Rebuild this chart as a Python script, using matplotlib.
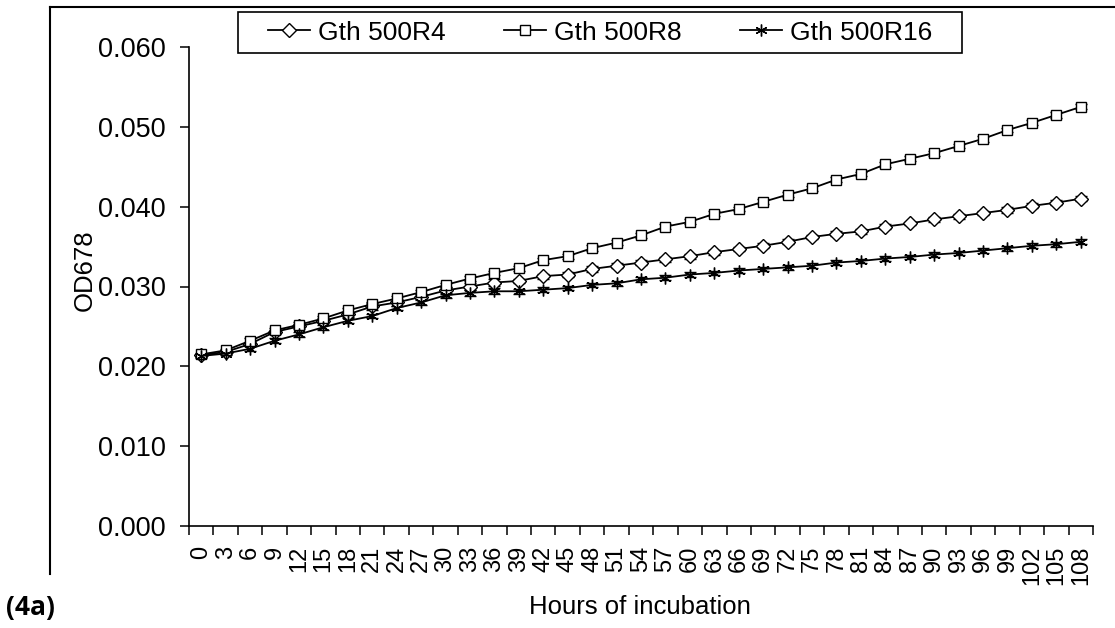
import numpy as np
import matplotlib.pyplot as plt
from matplotlib.lines import Line2D
from matplotlib.patches import Rectangle

plt.rcParams['font.family'] = ['Liberation Sans', 'DejaVu Sans']

# Hours of incubation (category labels)
hours = [0, 3, 6, 9, 12, 15, 18, 21, 24, 27, 30, 33, 36, 39, 42, 45, 48, 51, 54,
         57, 60, 63, 66, 69, 72, 75, 78, 81, 84, 87, 90, 93, 96, 99, 102, 105, 108]

# OD678 readings
gth_r4 = [0.0214, 0.0218, 0.0228, 0.0243, 0.0250, 0.0257, 0.0265, 0.0275, 0.0280,
          0.0287, 0.0295, 0.0300, 0.0305, 0.0307, 0.0313, 0.0315, 0.0322, 0.0326,
          0.0330, 0.0334, 0.0338, 0.0343, 0.0347, 0.0351, 0.0356, 0.0362, 0.0366,
          0.0369, 0.0375, 0.0379, 0.0384, 0.0388, 0.0392, 0.0396, 0.0401, 0.0405,
          0.0410]
gth_r8 = [0.0215, 0.0220, 0.0232, 0.0245, 0.0252, 0.0260, 0.0270, 0.0278, 0.0285,
          0.0293, 0.0302, 0.0310, 0.0317, 0.0323, 0.0333, 0.0338, 0.0348, 0.0355,
          0.0364, 0.0375, 0.0381, 0.0391, 0.0397, 0.0406, 0.0415, 0.0423, 0.0434,
          0.0441, 0.0453, 0.0460, 0.0467, 0.0476, 0.0485, 0.0496, 0.0505, 0.0515,
          0.0525]
gth_r16 = [0.0213, 0.0216, 0.0222, 0.0232, 0.0240, 0.0249, 0.0257, 0.0263, 0.0273,
           0.0280, 0.0289, 0.0292, 0.0294, 0.0294, 0.0296, 0.0298, 0.0302, 0.0304,
           0.0309, 0.0311, 0.0315, 0.0317, 0.0320, 0.0322, 0.0324, 0.0326, 0.0330,
           0.0332, 0.0335, 0.0337, 0.0340, 0.0342, 0.0345, 0.0348, 0.0351, 0.0353,
           0.0356]

# standard errors (small)
err_r4 = [0.0002, 0.0002, 0.0003, 0.0003, 0.0003, 0.0003, 0.0003, 0.0004, 0.0004,
          0.0003, 0.0004, 0.0004, 0.0004, 0.0003, 0.0003, 0.0003, 0.0004, 0.0003,
          0.0003, 0.0003, 0.0003, 0.0003, 0.0003, 0.0003, 0.0003, 0.0003, 0.0003,
          0.0003, 0.0003, 0.0002, 0.0003, 0.0003, 0.0003, 0.0004, 0.0003, 0.0003,
          0.0003]
err_r8 = [0.0002, 0.0002, 0.0003, 0.0003, 0.0003, 0.0003, 0.0003, 0.0003, 0.0003,
          0.0003, 0.0003, 0.0003, 0.0003, 0.0003, 0.0003, 0.0003, 0.0004, 0.0003,
          0.0003, 0.0003, 0.0003, 0.0003, 0.0003, 0.0003, 0.0003, 0.0003, 0.0003,
          0.0003, 0.0003, 0.0003, 0.0003, 0.0003, 0.0004, 0.0003, 0.0003, 0.0004,
          0.0003]
err_r16 = [0.0002, 0.0002, 0.0003, 0.0003, 0.0003, 0.0003, 0.0003, 0.0003, 0.0003,
           0.0003, 0.0003, 0.0004, 0.0004, 0.0003, 0.0003, 0.0003, 0.0003, 0.0003,
           0.0003, 0.0003, 0.0003, 0.0003, 0.0003, 0.0003, 0.0003, 0.0003, 0.0003,
           0.0003, 0.0003, 0.0003, 0.0003, 0.0003, 0.0003, 0.0003, 0.0003, 0.0003,
           0.0003]

labels = ['Gth 500R4', 'Gth 500R8', 'Gth 500R16']

fig = plt.figure(figsize=(11.15, 6.28), dpi=100)
ax = fig.add_axes([189 / 1115, 1 - 526 / 628, 904 / 1115, 479 / 628])

x = np.arange(len(hours))
series = [(gth_r4, err_r4, 'D', 7), (gth_r8, err_r8, 's', 7.5), (gth_r16, err_r16, (6, 2, 0), 8.5)]
for (vals, errs, mk, ms), lab in zip(series, labels):
    ax.errorbar(x, vals, yerr=errs, fmt='none', ecolor='black', elinewidth=1.0,
                capsize=4, capthick=1.0, zorder=2)
    ax.plot(x, vals, color='black', lw=1.3, marker=mk, markersize=ms,
            markerfacecolor='white', markeredgecolor='black', markeredgewidth=1.0,
            label=lab, zorder=3)

ax.set_xlim(-0.5, len(hours) - 0.5)
ax.set_ylim(0, 0.06)
ax.set_yticks(np.arange(0, 0.0601, 0.01))
ax.set_yticklabels(['%.3f' % v for v in np.arange(0, 0.0601, 0.01)])
ax.set_xticks(x)
ax.set_xticklabels([str(h) for h in hours], rotation=90)
ax.set_xticks(np.arange(-0.5, len(hours)), minor=True)
ax.tick_params(axis='x', which='major', length=0, pad=14, labelsize=17)
ax.tick_params(axis='x', which='minor', length=6.5, width=1.1, direction='out')
ax.tick_params(axis='y', length=6.5, width=1.1, pad=10, labelsize=19.5)

for s in ['top', 'right']:
    ax.spines[s].set_visible(False)
for s in ['left', 'bottom']:
    ax.spines[s].set_linewidth(1.2)

fig.text(85 / 1115, 1 - 270 / 628, 'OD678', rotation=90, ha='center', va='center', fontsize=18.5)
fig.text(640 / 1115, 1 - 607 / 628, 'Hours of incubation', ha='center', va='center', fontsize=18.5)
fig.text(6 / 1115, 1 - 608 / 628, '(4a)', ha='left', va='center', fontsize=19,
         fontweight='bold', family=['Open Sans', 'DejaVu Sans'])

# outer chart-area frame (cropped)
fig.add_artist(Line2D([50 / 1115, 1.0], [1 - 7 / 628, 1 - 7 / 628], color='black', lw=1.5,
                      transform=fig.transFigure))
fig.add_artist(Line2D([50 / 1115, 50 / 1115], [1 - 7 / 628, 1 - 574 / 628], color='black', lw=1.5,
                      transform=fig.transFigure))

# legend box
fig.add_artist(Rectangle((238 / 1115, 1 - 53 / 628), 724 / 1115, 41 / 628, fill=False,
                         edgecolor='black', lw=1.2, transform=fig.transFigure))
ax.legend(loc='center', bbox_to_anchor=(600 / 1115, 1 - 32.5 / 628),
          bbox_transform=fig.transFigure, ncol=3, fontsize=19, frameon=False,
          handlelength=1.6, handletextpad=0.3, columnspacing=2.2, borderaxespad=0)

fig.savefig('out.png', dpi=100)
